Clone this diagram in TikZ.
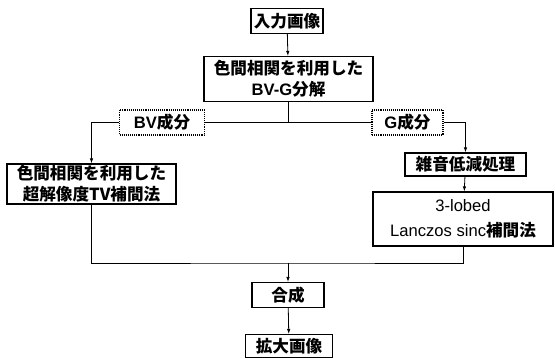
\documentclass[tikz,border=0pt]{standalone}
\usepackage{fontspec}
\setmainfont{Noto Sans CJK JP}
\newfontfamily\lat{Liberation Sans}
\usetikzlibrary{arrows.meta}
\tikzset{
	box/.style={draw, line width=1.1pt, inner sep=0pt, align=center, font=\bfseries\fontsize{16.6}{21}\selectfont},
	dotbox/.style={box, densely dotted, line width=1.2pt},
	arr/.style={-{Latex[length=5pt,width=3.5pt]}, line width=0.8pt},
	wire/.style={line width=0.8pt},
}

\begin{document}
\begin{tikzpicture}[x=1pt,y=-1pt]
			%%%%% START %%%%%
			\useasboundingbox (0,0) rectangle (555,358);
			
			\node[box, minimum width=72pt, minimum height=25pt] (in) at (287, 21) {入力画像};
			\node[box, minimum width=169pt, minimum height=45pt] (bvg) at (288.5, 79) {色間相関を利用した\\{\lat BV-G}分解};
			
			\node[dotbox, minimum width=85pt, minimum height=25pt] (bv) at (162, 122.5) {{\lat BV}成分};
			\node[dotbox, minimum width=71pt, minimum height=25pt] (g) at (407.5, 122.5) {{\lat G}成分};
			
			\node[box, minimum width=169pt, minimum height=40pt] (sr) at (91.5, 184) {色間相関を利用した\\超解像度TV補間法};
			\node[box, minimum width=121pt, minimum height=23pt] (nr) at (465.5, 164.5) {雑音低減処理};
			\node[box, minimum width=180pt, minimum height=54pt, font=\bfseries\fontsize{16.6}{25}\selectfont] (lz) at (463, 219) {{\lat\mdseries 3-lobed}\\{\lat\mdseries Lanczos sinc}補間法};
			
			\coordinate (join) at (288, 263);
			\node[box, minimum width=72pt, minimum height=25pt] (gs) at (288, 295) {合成};
			\node[box, minimum width=87pt, minimum height=23pt] (out) at (289, 346) {拡大画像};
			
			\draw[arr] (in) -- (bvg);
			\draw[wire] (bvg.south) |- (bv.east);
			\draw[wire] (bvg.south) |- (g.west);
			\draw[arr] (bv.west) -| (sr.north);
			\draw[arr] (g.east) -| (nr.north);
			\draw[arr] (nr) -- (lz);
			\draw[wire] (sr.south) |- (join) -| (lz.south);
			\draw[arr] (join) -- (gs);
			\draw[arr] (gs) -- (out);
			
			%%%%% END %%%%%
\end{tikzpicture}
\end{document}
